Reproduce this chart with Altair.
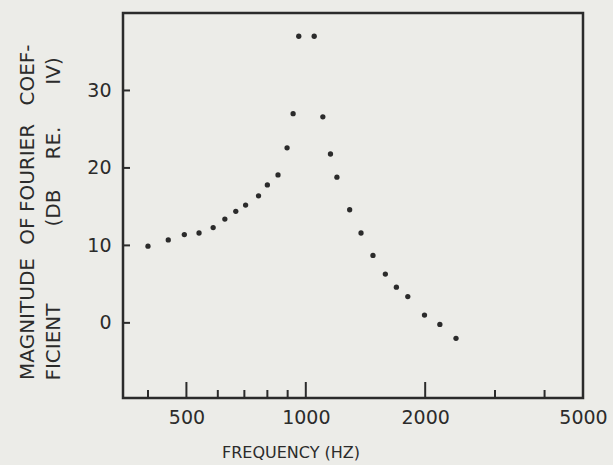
import altair as alt
import pandas as pd

# Data
freq_hz = [400, 450, 494, 538, 584, 625, 666, 705, 760, 800, 851, 897, 929, 960,
           1050, 1104, 1154, 1198, 1290, 1378, 1477, 1587, 1692, 1808, 1992, 2178, 2392]
mag_db = [9.9, 10.7, 11.4, 11.6, 12.3, 13.4, 14.4, 15.2, 16.4, 17.8, 19.1, 22.6, 27.0, 37.0,
          37.0, 26.6, 21.8, 18.8, 14.6, 11.6, 8.7, 6.3, 4.6, 3.4, 1.0, -0.2, -2.0]

x_labels = [500, 1000, 2000, 5000]
x_major_ticks = [500, 1000, 2000]
x_minor_ticks = [400, 600, 700, 800, 900, 3000, 4000]
y_ticks = [0, 10, 20, 30]

W, H = 460, 385
INK = "#2b2b2b"
FONT = "DejaVu Sans"

xs = alt.Scale(type="log", domain=[346, 5000], nice=False)
ys = alt.Scale(domain=[-9.7, 40], nice=False, zero=False)

x_axis = alt.Axis(values=x_labels, ticks=False, domain=False, grid=False, title=None,
                  labelFont=FONT, labelFontSize=19, labelColor=INK, labelPadding=10,
                  labelFlush=False, labelOverlap=False, format="d")
y_axis = alt.Axis(values=y_ticks, ticks=False, domain=False, grid=False, title=None,
                  labelFont=FONT, labelFontSize=19, labelColor=INK, labelPadding=12,
                  format="d")

df = pd.DataFrame({"f": freq_hz, "db": mag_db})

points = alt.Chart(df).mark_circle(size=28, color=INK, opacity=1).encode(
    x=alt.X("f:Q", scale=xs, axis=x_axis),
    y=alt.Y("db:Q", scale=ys, axis=y_axis),
)

major = alt.Chart(pd.DataFrame({"f": x_major_ticks})).mark_rule(color=INK, strokeWidth=2).encode(
    x=alt.X("f:Q", scale=xs, axis=x_axis), y=alt.value(H), y2=alt.value(H - 16))
minor = alt.Chart(pd.DataFrame({"f": x_minor_ticks})).mark_rule(color=INK, strokeWidth=2).encode(
    x=alt.X("f:Q", scale=xs, axis=x_axis), y=alt.value(H), y2=alt.value(H - 8))
yt = alt.Chart(pd.DataFrame({"db": y_ticks})).mark_rule(color=INK, strokeWidth=2).encode(
    y=alt.Y("db:Q", scale=ys, axis=y_axis), x=alt.value(0), x2=alt.value(7))

one = pd.DataFrame({"a": [0]})

def label(text, x, y, angle=0, align="center", size=17):
    return alt.Chart(one).mark_text(
        text=text, angle=angle, align=align, baseline="middle",
        font=FONT, fontSize=size, color=INK).encode(x=alt.value(x), y=alt.value(y))

xtitle = label("FREQUENCY  (HZ)", 168, 440, size=16)

# y title, lettered word by word as in the reference
L1X, L2X, YS = -95, -69, 20
ytitle = [
    label("MAGNITUDE", L1X, 306, angle=270, size=YS),
    label("OF", L1X, 218, angle=270, size=YS),
    label("FOURIER", L1X, 155, angle=270, size=YS),
    label("COEF-", L1X, 62, angle=270, size=YS),
    label("FICIENT", L2X, 329, angle=270, size=YS),
    label("(DB", L2X, 195, angle=270, size=YS),
    label("RE.", L2X, 130, angle=270, size=YS),
    label("IV)", L2X, 58, angle=270, size=YS),
]

chart = alt.layer(points, major, minor, yt, xtitle, *ytitle).properties(
    width=W, height=H,
    autosize=alt.AutoSizeParams(type="none"),
    padding={"left": 123, "top": 13, "right": 30, "bottom": 67},
    background="#ecece8",
).configure_view(stroke=INK, strokeWidth=2.5)

chart.save("out.html", embed_options={"renderer": "svg", "actions": False})
